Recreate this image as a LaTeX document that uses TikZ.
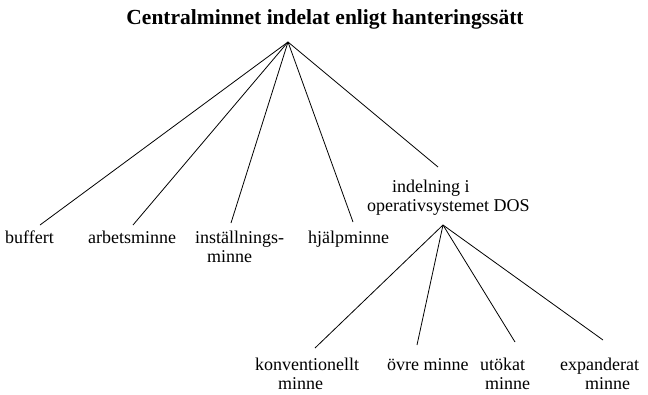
\documentclass[tikz,border=0pt]{standalone}
\usepackage{fontspec}
\setmainfont{Liberation Serif}
\begin{document}
\begin{tikzpicture}[x=1pt,y=-1pt,
  lbl/.style={anchor=north west,inner sep=0pt,font=\fontsize{18}{19}\selectfont,align=left},
  conn/.style={line width=0.8pt}]
\useasboundingbox (0,0) rectangle (648,394);
\node[anchor=base,inner sep=0pt,font=\fontsize{21.5}{24}\selectfont\bfseries] (title) at (325,24) {Centralminnet indelat enligt hanteringssätt};
\coordinate (A) at (288,42);
\coordinate (B) at (443,225);
\node[lbl] (buf) at (5,231) {buffert};
\node[lbl] (arb) at (88,231) {arbetsminne};
\node[lbl] (inst) at (195,231) {inställnings-\\\hspace*{12pt}minne};
\node[lbl] (hjalp) at (308,231) {hjälpminne};
\node[lbl] (dos) at (367,180) {\hspace*{25pt}indelning i\\operativsystemet DOS};
\node[lbl] (konv) at (255,358) {konventionellt\\\hspace*{23pt}minne};
\node[lbl] (ovre) at (387,358) {övre minne};
\node[lbl] (utok) at (480,358) {utökat\\\hspace*{5pt}minne};
\node[lbl] (exp) at (560,358) {expanderat\\\hspace*{25pt}minne};
\draw[conn] (A) -- ([shift={(35,-6)}]buf.north west);
\draw[conn] (A) -- ([shift={(45,-6)}]arb.north west);
\draw[conn] (A) -- ([shift={(36,-8)}]inst.north west);
\draw[conn] (A) -- ([shift={(45,-9)}]hjalp.north west);
\draw[conn] (A) -- ([shift={(71,-13)}]dos.north west);
\draw[conn] (B) -- ([shift={(60,-10)}]konv.north west);
\draw[conn] (B) -- ([shift={(30,-13)}]ovre.north west);
\draw[conn] (B) -- ([shift={(35,-16)}]utok.north west);
\draw[conn] (B) -- ([shift={(43,-18)}]exp.north west);
\end{tikzpicture}
\end{document}
